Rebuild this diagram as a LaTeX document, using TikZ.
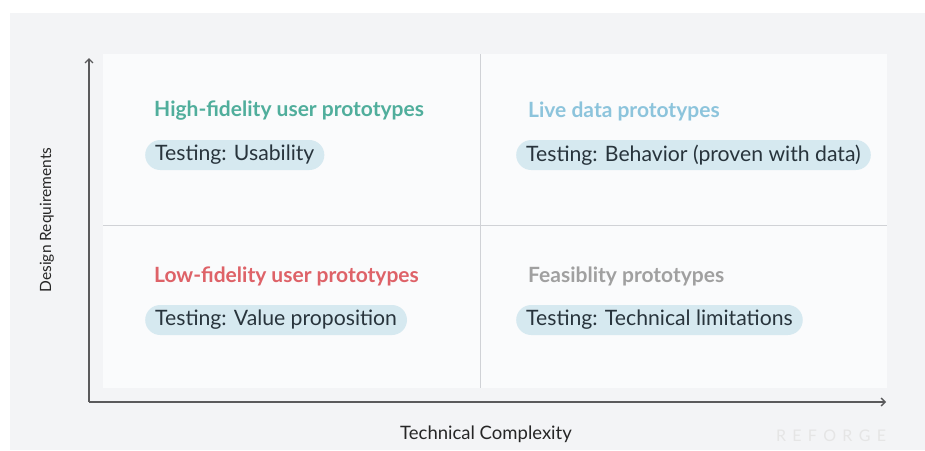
\documentclass[tikz,border=0pt]{standalone}
\usepackage{fontspec}
\setmainfont{Lato}
\usepackage{tikz}
\usetikzlibrary{arrows.meta, positioning}
\definecolor{outerbg}{RGB}{243, 244, 246}
\definecolor{innerbg}{RGB}{250, 251, 252}
\definecolor{divider}{RGB}{208, 210, 214}
\definecolor{axisline}{RGB}{90, 90, 92}
\definecolor{pill}{RGB}{214, 233, 240}
\definecolor{pilltext}{RGB}{40, 52, 60}
\definecolor{hifi}{RGB}{80, 174, 156}
\definecolor{live}{RGB}{140, 196, 220}
\definecolor{lofi}{RGB}{222, 98, 104}
\definecolor{feas}{RGB}{160, 160, 160}
\tikzstyle{title} = [anchor=west, inner sep=0pt, font=\bfseries\fontsize{21}{24}\selectfont]
\tikzstyle{testpill} = [anchor=west, rounded corners=15pt, minimum height=30pt, inner xsep=10pt, inner ysep=0pt, fill=pill, text=pilltext, font=\fontsize{21.2}{24}\selectfont]
\tikzstyle{axislabel} = [text=black!85, font=\fontsize{18.5}{21}\selectfont]
\tikzstyle{axis} = [axisline, line width=1.3pt, rounded corners=4pt, -{Straight Barb[length=4pt, width=8pt]}]

\begin{document}
\begin{tikzpicture}[x=1pt, y=-1pt]
    % Background panels
    \useasboundingbox (0,0) rectangle (925,450);
    \fill[outerbg] (10,13) rectangle (925,450);
    \fill[innerbg] (103,54) rectangle (887,388);

    % Quadrant dividers
    \draw[divider, line width=1pt] (480,54) -- (480,388);
    \draw[divider, line width=1pt] (103,225) -- (887,225);

    % Axes
    \coordinate (origin) at (89,402);
    \coordinate (ytop) at (89,58);
    \coordinate (xend) at (886,402);
    \draw[axis] (origin) -- (ytop);
    \draw[axis] (origin) -- (xend);

    % Axis labels
    \node[axislabel] (xlabel) at (486,434) {Technical Complexity};
    \node[axislabel, rotate=90, font=\fontsize{15.5}{18}\selectfont] (ylabel) at (47,220) {Design Requirements};
    \node[text=black!10, font=\fontsize{16}{18}\selectfont] (brand) at (831,436) {R\hspace{6.3pt}E\hspace{6.3pt}F\hspace{6.3pt}O\hspace{6.3pt}R\hspace{6.3pt}G\hspace{6.3pt}E};

    % Quadrant titles
    \node[title, text=hifi] (hititle) at (154,111) {High-fidelity user prototypes};
    \node[title, text=live] (livetitle) at (528,111) {Live data prototypes};
    \node[title, text=lofi] (lotitle) at (154,276) {Low-fidelity user prototypes};
    \node[title, text=feas] (feastitle) at (528,276) {Feasiblity prototypes};

    % Testing pills
    \node[testpill] (hitest) at (145,155) {Testing: Usability};
    \node[testpill] (livetest) at (516,155) {Testing: Behavior (proven with data)};
    \node[testpill] (lotest) at (145,320) {Testing: Value proposition};
    \node[testpill] (feastest) at (516,320) {Testing: Technical limitations};
\end{tikzpicture}
\end{document}
